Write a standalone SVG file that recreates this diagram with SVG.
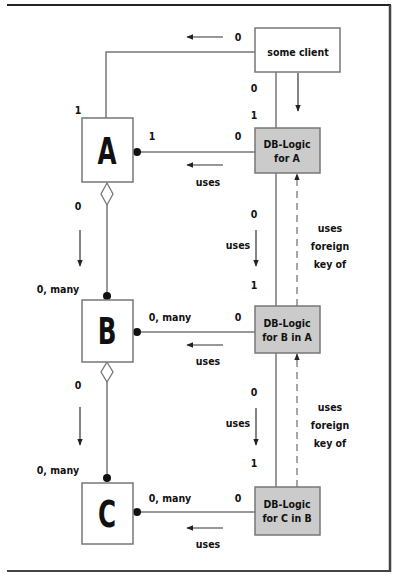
<svg xmlns="http://www.w3.org/2000/svg" width="396" height="574" viewBox="0 0 396 574">
<defs>
<style>
.t{font-family:"DejaVu Sans Condensed","Liberation Sans",sans-serif;font-weight:bold;font-size:10.5px;fill:#111;text-anchor:middle}
.big{font-family:"DejaVu Sans Condensed","Liberation Sans",sans-serif;font-weight:bold;font-size:38px;fill:#111;text-anchor:middle}
.ln{stroke:#777;stroke-width:1.5;fill:none}
.ar{stroke:#333;stroke-width:1.2;fill:none}
.box{fill:#fff;stroke:#777;stroke-width:1.5}
.db{fill:#cbcbcb;stroke:#777;stroke-width:1.5}
.dash{stroke:#777;stroke-width:1.3;fill:none;stroke-dasharray:7,5}
</style>
<marker id="ah" viewBox="0 0 10 10" refX="9" refY="5" markerWidth="7" markerHeight="7" orient="auto-start-reverse" markerUnits="userSpaceOnUse"><path d="M0,1 L10,5 L0,9 Z" fill="#222"/></marker>
</defs>
<rect x="0" y="0" width="396" height="574" fill="#fff"/>
<g id="frame">
<line x1="7" y1="5" x2="391" y2="5" stroke="#222" stroke-width="2"/>
<line x1="390" y1="5" x2="390" y2="572" stroke="#444" stroke-width="2.5"/>
<line x1="7" y1="571" x2="391" y2="571" stroke="#444" stroke-width="2"/>
</g>
<g id="connectors">
<polyline class="ln" points="255,52 106,52 106,118"/>
<line class="ln" x1="276" y1="72" x2="276" y2="487"/>
<line class="ln" x1="137" y1="152" x2="255" y2="152"/>
<line class="ln" x1="137" y1="332" x2="255" y2="332"/>
<line class="ln" x1="137" y1="512" x2="255" y2="512"/>
<line class="ln" x1="107" y1="205" x2="107" y2="295"/>
<line class="ln" x1="107" y1="382" x2="107" y2="478"/>
<polygon points="107,183 113,194 107,205 101,194" fill="#fff" stroke="#777" stroke-width="1.3"/>
<polygon points="107,362 113,372 107,382 101,372" fill="#fff" stroke="#777" stroke-width="1.3"/>
<circle cx="137" cy="152" r="4" fill="#111"/>
<circle cx="137" cy="332" r="4" fill="#111"/>
<circle cx="137" cy="512" r="4" fill="#111"/>
<circle cx="107" cy="296" r="4" fill="#111"/>
<circle cx="107" cy="478" r="4" fill="#111"/>
<line class="dash" x1="297" y1="306" x2="297" y2="174" marker-end="url(#ah)"/>
<line class="dash" x1="297" y1="487" x2="297" y2="354" marker-end="url(#ah)"/>
<line class="ar" x1="223" y1="37" x2="187" y2="37" marker-end="url(#ah)"/>
<line class="ar" x1="298" y1="73" x2="298" y2="111" marker-end="url(#ah)"/>
<line class="ar" x1="223" y1="165" x2="187" y2="165" marker-end="url(#ah)"/>
<line class="ar" x1="223" y1="345" x2="187" y2="345" marker-end="url(#ah)"/>
<line class="ar" x1="223" y1="528" x2="187" y2="528" marker-end="url(#ah)"/>
<line class="ar" x1="80" y1="230" x2="80" y2="266" marker-end="url(#ah)"/>
<line class="ar" x1="80" y1="407" x2="80" y2="445" marker-end="url(#ah)"/>
<line class="ar" x1="256" y1="230" x2="256" y2="266" marker-end="url(#ah)"/>
<line class="ar" x1="256" y1="408" x2="256" y2="445" marker-end="url(#ah)"/>
</g>
<g id="client">
<rect class="box" x="255" y="28" width="85" height="44"/>
<text class="t" x="298" y="56">some client</text>
</g>
<g id="A">
<rect class="box" x="82" y="118" width="51" height="64"/>
<text class="big" transform="translate(107,164) scale(0.72,1)">A</text>
</g>
<g id="B">
<rect class="box" x="82" y="300" width="51" height="62"/>
<text class="big" transform="translate(107,344) scale(0.72,1)">B</text>
</g>
<g id="C">
<rect class="box" x="82" y="483" width="51" height="61"/>
<text class="big" transform="translate(107,527) scale(0.72,1)">C</text>
</g>
<g id="dbA">
<rect class="db" x="255" y="128" width="65" height="45"/>
<text class="t" x="287" y="148">DB-Logic</text>
<text class="t" x="287" y="162">for A</text>
</g>
<g id="dbB">
<rect class="db" x="255" y="306" width="65" height="47"/>
<text class="t" x="287" y="327">DB-Logic</text>
<text class="t" x="287" y="341">for B in A</text>
</g>
<g id="dbC">
<rect class="db" x="255" y="487" width="65" height="48"/>
<text class="t" x="287" y="508">DB-Logic</text>
<text class="t" x="287" y="522">for C in B</text>
</g>
<g id="labels">
<text class="t" x="238" y="41">0</text>
<text class="t" x="254" y="92">0</text>
<text class="t" x="254" y="119">1</text>
<text class="t" x="78" y="114">1</text>
<text class="t" x="152" y="140">1</text>
<text class="t" x="238" y="140">0</text>
<text class="t" x="208" y="186">uses</text>
<text class="t" x="78" y="210">0</text>
<text class="t" x="58" y="293">0, many</text>
<text class="t" x="170" y="321">0, many</text>
<text class="t" x="238" y="321">0</text>
<text class="t" x="208" y="365">uses</text>
<text class="t" x="254" y="218">0</text>
<text class="t" x="238" y="249">uses</text>
<text class="t" x="254" y="289">1</text>
<text class="t" x="330" y="232">uses</text>
<text class="t" x="330" y="250">foreign</text>
<text class="t" x="330" y="268">key of</text>
<text class="t" x="78" y="389">0</text>
<text class="t" x="58" y="474">0, many</text>
<text class="t" x="170" y="502">0, many</text>
<text class="t" x="238" y="502">0</text>
<text class="t" x="208" y="548">uses</text>
<text class="t" x="254" y="396">0</text>
<text class="t" x="238" y="427">uses</text>
<text class="t" x="254" y="467">1</text>
<text class="t" x="330" y="411">uses</text>
<text class="t" x="330" y="429">foreign</text>
<text class="t" x="330" y="447">key of</text>
</g>
</svg>
